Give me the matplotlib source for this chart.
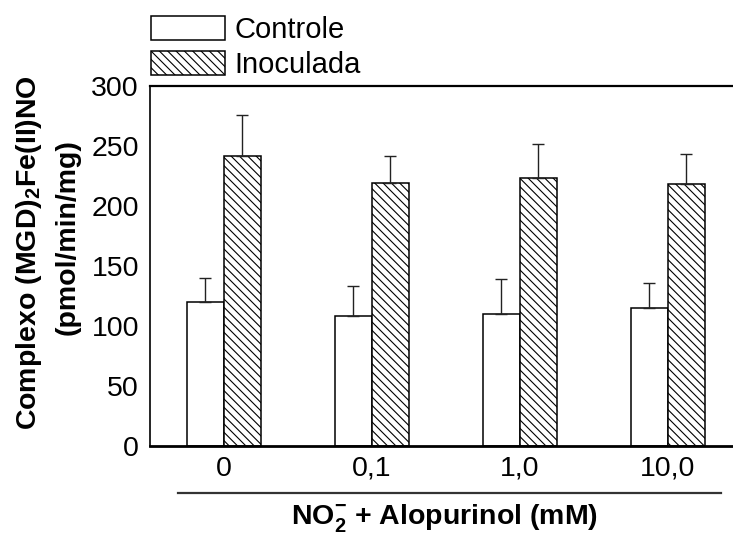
import matplotlib
matplotlib.use('Agg')
import matplotlib.pyplot as plt
from matplotlib.lines import Line2D
import numpy as np

plt.rcParams['font.family'] = ['Liberation Sans', 'DejaVu Sans']
plt.rcParams['mathtext.fontset'] = 'custom'
plt.rcParams['mathtext.rm'] = 'Liberation Sans'
plt.rcParams['mathtext.bf'] = 'Liberation Sans:bold'
plt.rcParams['hatch.linewidth'] = 0.8

# data
doses = ['0', '0,1', '1,0', '10,0']
controle = [120, 108, 110, 115]
controle_err = [20, 25, 29, 21]
inoculada = [242, 219, 223, 218]
inoculada_err = [34, 23, 29, 25]
yticks = [0, 50, 100, 150, 200, 250, 300]

fs = 20.5

fig = plt.figure(figsize=(7.33, 5.36), dpi=100)
ax = fig.add_axes([150 / 733, 1 - 446 / 536, 1 - 150 / 733, (446 - 86) / 536])

x = np.arange(len(doses))
w = 0.25
err_kw = dict(ecolor='#222222', elinewidth=1.0, capsize=4, capthick=1.0)
ax.bar(x - w / 2, controle, w, color='white', edgecolor='black', linewidth=1.1,
       yerr=[np.zeros(len(controle)), controle_err], error_kw=err_kw, label='Controle')
ax.bar(x + w / 2, inoculada, w, color='white', edgecolor='black', linewidth=1.1,
       hatch='\\\\\\\\', yerr=[np.zeros(len(inoculada)), inoculada_err], error_kw=err_kw,
       label='Inoculada')

ax.set_xlim(-0.5, 3.44)
ax.set_ylim(0, 300)
ax.set_yticks(yticks)
ax.set_xticks(x)
ax.set_xticklabels(doses)
ax.tick_params(axis='y', length=0, labelsize=fs, pad=8)
ax.tick_params(axis='x', length=0, labelsize=fs, pad=7)

ax.spines['right'].set_visible(False)
ax.spines['left'].set_linewidth(1.2)
ax.spines['top'].set_linewidth(1.6)
ax.spines['bottom'].set_linewidth(2.0)

# line between tick labels and axis title
fig.add_artist(Line2D([178 / 733, 721 / 733], [1 - 493 / 536, 1 - 493 / 536],
                      color='#333333', linewidth=1.6))

fig.text(445 / 733, 1 - 518 / 536, r'NO$_\mathbf{2}^\mathbf{-}$ + Alopurinol (mM)',
         ha='center', va='center', fontsize=fs, fontweight='bold')
fig.text(29 / 733, 1 - 253 / 536, r'Complexo (MGD)$_\mathbf{2}$Fe(II)NO', rotation=90,
         ha='center', va='center', fontsize=fs, fontweight='bold')
fig.text(68 / 733, 1 - 237 / 536, '(pmol/min/mg)', rotation=90,
         ha='center', va='center', fontsize=fs, fontweight='bold')

ax.legend(loc='lower left', bbox_to_anchor=(151 / 733, 1 - 79 / 536),
          bbox_transform=fig.transFigure, frameon=False, fontsize=21,
          borderpad=0, borderaxespad=0, handlelength=2.53, handleheight=0.86,
          handletextpad=0.34, labelspacing=0.24)

fig.savefig('out.png', dpi=100)
